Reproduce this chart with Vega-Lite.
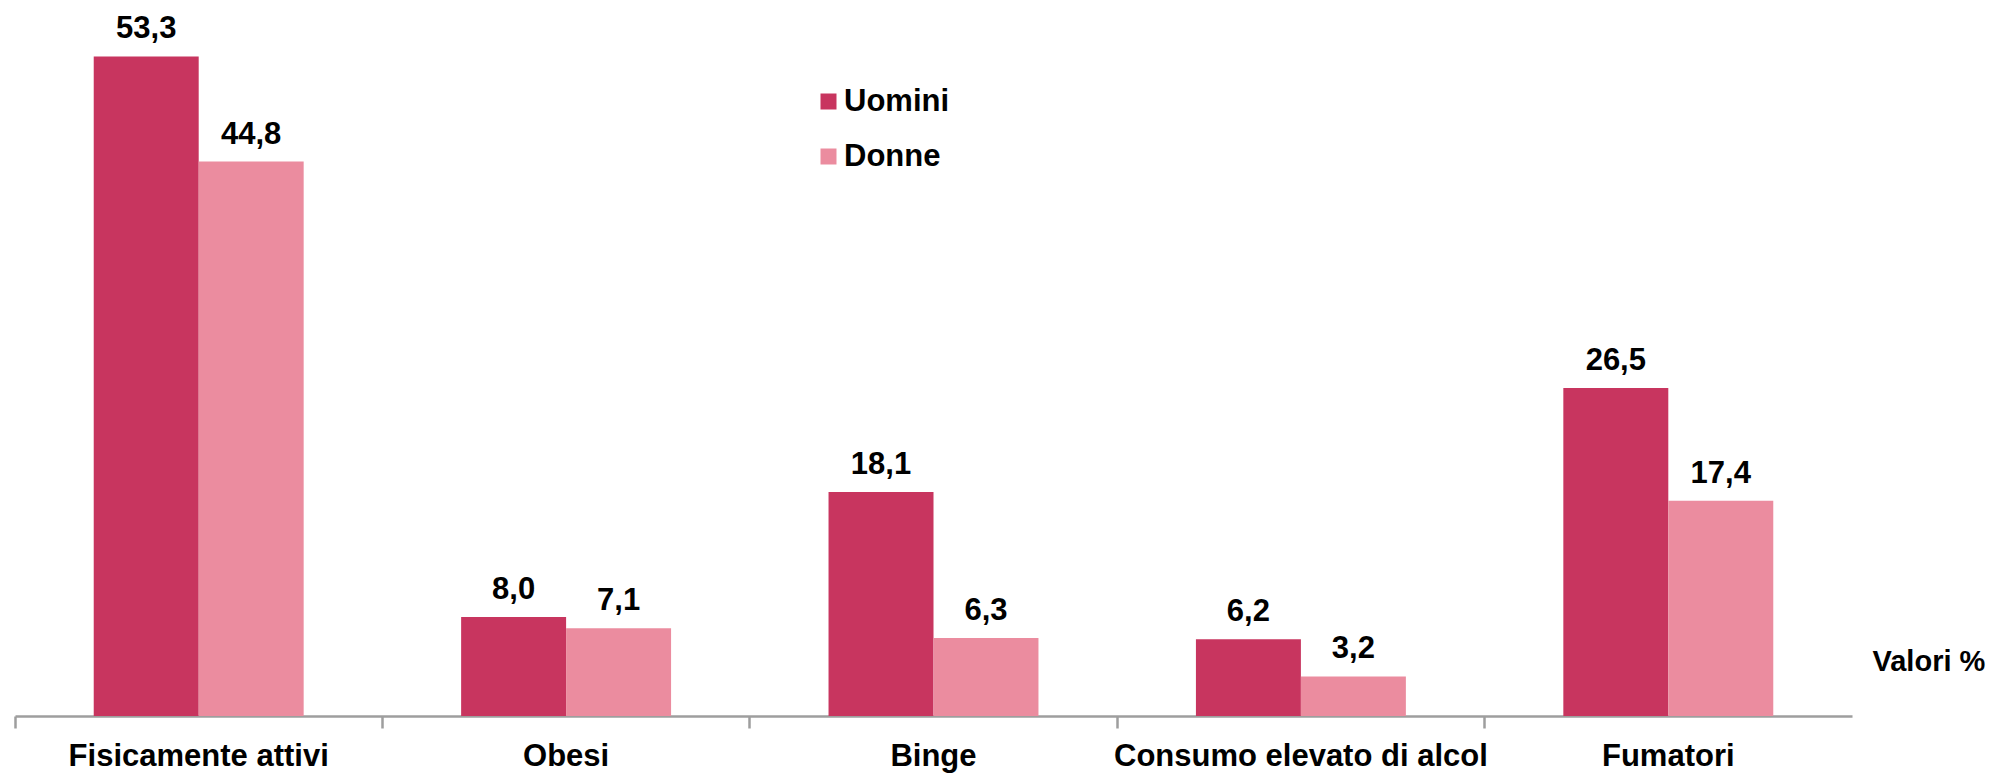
{
  "$schema": "https://vega.github.io/schema/vega-lite/v6.json",
  "autosize": {"type": "none"},
  "padding": {"left": 15, "top": 23, "right": 141, "bottom": 60},
  "width": 1837,
  "height": 693,
  "background": "white",
  "config": {
    "view": {"stroke": null},
    "locale": {"number": {"decimal": ",", "thousands": ".", "grouping": [3], "currency": ["", " €"]}},
    "font": "Liberation Sans"
  },
  "data": {
    "values": [
      {"categoria": "Fisicamente attivi", "sesso": "Uomini", "valore": 53.3},
      {"categoria": "Fisicamente attivi", "sesso": "Donne", "valore": 44.8},
      {"categoria": "Obesi", "sesso": "Uomini", "valore": 8.0},
      {"categoria": "Obesi", "sesso": "Donne", "valore": 7.1},
      {"categoria": "Binge", "sesso": "Uomini", "valore": 18.1},
      {"categoria": "Binge", "sesso": "Donne", "valore": 6.3},
      {"categoria": "Consumo elevato di alcol", "sesso": "Uomini", "valore": 6.2},
      {"categoria": "Consumo elevato di alcol", "sesso": "Donne", "valore": 3.2},
      {"categoria": "Fumatori", "sesso": "Uomini", "valore": 26.5},
      {"categoria": "Fumatori", "sesso": "Donne", "valore": 17.4}
    ]
  },
  "encoding": {
    "x": {
      "field": "categoria",
      "type": "nominal",
      "sort": null,
      "scale": {"paddingInner": 0, "paddingOuter": 0},
      "axis": {
        "title": null,
        "labelAngle": 0,
        "labelFont": "Liberation Sans",
        "labelFontSize": 31,
        "labelFontWeight": "bold",
        "labelColor": "#000000",
        "labelPadding": 13,
        "labelLimit": 0,
        "domainColor": "#9e9e9e",
        "domainWidth": 2.5,
        "tickColor": "#9e9e9e",
        "tickWidth": 2.5,
        "tickSize": 12,
        "bandPosition": 0,
        "tickExtra": false,
        "grid": false
      }
    },
    "xOffset": {
      "field": "sesso",
      "type": "nominal",
      "sort": ["Uomini", "Donne"],
      "scale": {"paddingInner": 0, "paddingOuter": 0.75}
    },
    "y": {
      "field": "valore",
      "type": "quantitative",
      "scale": {"domain": [0, 56]},
      "axis": {
        "orient": "right",
        "domain": false,
        "ticks": false,
        "labels": false,
        "grid": false,
        "title": "Valori %",
        "titleAngle": 0,
        "titleAlign": "left",
        "titleBaseline": "alphabetic",
        "titleX": 20,
        "titleY": 647,
        "titleFont": "Liberation Sans",
        "titleFontSize": 29,
        "titleFontWeight": "bold",
        "titleColor": "#000000"
      }
    }
  },
  "layer": [
    {
      "mark": {"type": "bar"},
      "encoding": {
        "color": {
          "field": "sesso",
          "type": "nominal",
          "sort": ["Uomini", "Donne"],
          "scale": {"domain": ["Uomini", "Donne"], "range": ["#C8355F", "#EB8C9F"]},
          "legend": {
            "title": null,
            "orient": "none",
            "legendX": 798,
            "legendY": 63,
            "padding": 0,
            "symbolType": "square",
            "symbolSize": 256,
            "symbolStrokeWidth": 0,
            "labelFont": "Liberation Sans",
            "labelFontSize": 31,
            "labelFontWeight": "bold",
            "labelColor": "#000000",
            "labelOffset": 0,
            "rowPadding": 23
          }
        }
      }
    },
    {
      "mark": {
        "type": "text",
        "baseline": "alphabetic",
        "dy": -18,
        "font": "Liberation Sans",
        "fontSize": 31,
        "fontWeight": "bold",
        "color": "#000000"
      },
      "encoding": {
        "text": {"field": "valore", "type": "quantitative", "format": ".1f"}
      }
    }
  ]
}
